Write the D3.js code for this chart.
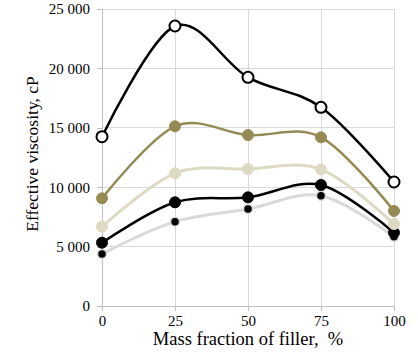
<!DOCTYPE html>
<html>
<head>
<meta charset="utf-8">
<script src="https://cdn.jsdelivr.net/npm/d3@7"></script>
<style>
  body { margin: 0; background: #fff; }
  svg { display: block; font-family: "Liberation Serif", "Times New Roman", serif; }
</style>
</head>
<body>
<svg></svg>
<script>
const width = 418;
const height = 352;

// data
const fractions = [0, 25, 50, 75, 100];
const yTicks = [0, 5000, 10000, 15000, 20000, 25000];
const seriesA = [14250, 23570, 19250, 16725, 10440];
const seriesB = [9065, 15125, 14390, 14200, 8000];
const seriesC = [6675, 11170, 11530, 11500, 6900];
const seriesD = [5330, 8730, 9150, 10185, 6170];
const seriesE = [4380, 7100, 8165, 9285, 5835];

const styles = [
  {vals: seriesE, line: "#d9d9d9", lw: 3, fill: "#000", stroke: "#d9d9d9", r: 4.5, sw: 1.5},
  {vals: seriesD, line: "#000", lw: 2.5, fill: "#000", stroke: "#000", r: 5.5, sw: 1},
  {vals: seriesC, line: "#ddd9c3", lw: 3, fill: "#ddd9c3", stroke: "#ddd9c3", r: 5.5, sw: 1},
  {vals: seriesB, line: "#948a54", lw: 2.5, fill: "#948a54", stroke: "#948a54", r: 5.5, sw: 1},
  {vals: seriesA, line: "#000", lw: 2.5, fill: "#fff", stroke: "#000", r: 5.5, sw: 2}
];

const svg = d3.select("svg")
  .attr("width", width)
  .attr("height", height);

const x = d3.scaleLinear().domain([0, 100]).range([102, 394]);
const y = d3.scaleLinear().domain([0, 25000]).range([306, 9]);

const fmt = v => d3.format(",")(v).replace(/,/g, " ");

// grid
svg.append("g")
  .selectAll("line.h")
  .data(yTicks.slice(1))
  .join("line")
  .attr("x1", x(0)).attr("x2", x(100))
  .attr("y1", d => y(d)).attr("y2", d => y(d))
  .attr("stroke", "#d9d9d9").attr("stroke-width", 1)
  .attr("shape-rendering", "crispEdges");

svg.append("g")
  .selectAll("line.v")
  .data(fractions.slice(1))
  .join("line")
  .attr("x1", d => x(d)).attr("x2", d => x(d))
  .attr("y1", y(0)).attr("y2", y(25000))
  .attr("stroke", "#d9d9d9").attr("stroke-width", 1)
  .attr("shape-rendering", "crispEdges");

// axes
const xAxis = svg.append("g")
  .attr("transform", `translate(0,${y(0)})`)
  .call(d3.axisBottom(x).tickValues(fractions).tickSize(5).tickPadding(4));
const yAxis = svg.append("g")
  .attr("transform", `translate(${x(0)},0)`)
  .call(d3.axisLeft(y).tickValues(yTicks).tickFormat(fmt).tickSize(5).tickPadding(7));

[xAxis, yAxis].forEach(g => {
  g.select(".domain").attr("stroke", "#bfbfbf").attr("shape-rendering", "crispEdges");
  g.selectAll(".tick line").attr("stroke", "#bfbfbf").attr("shape-rendering", "crispEdges");
  g.selectAll("text")
    .attr("font-family", "Liberation Serif, Times New Roman, serif")
    .attr("font-size", 15)
    .attr("fill", "#000");
});
yAxis.select(".domain").attr("d", `M0.5,${y(0)}V${y(25000)}`);
xAxis.select(".domain").attr("d", `M${x(0)},0.5H${x(100)}`);

// series
const line = d3.line()
  .x((d, i) => x(fractions[i]))
  .y(d => y(d))
  .curve(d3.curveCardinal.tension(0));

styles.forEach(s => {
  svg.append("path")
    .attr("d", line(s.vals))
    .attr("fill", "none")
    .attr("stroke", s.line)
    .attr("stroke-width", s.lw)
    .attr("stroke-linejoin", "round");
});
styles.forEach(s => {
  svg.append("g")
    .selectAll("circle")
    .data(s.vals)
    .join("circle")
    .attr("cx", (d, i) => x(fractions[i]))
    .attr("cy", d => y(d))
    .attr("r", s.r)
    .attr("fill", s.fill)
    .attr("stroke", s.stroke)
    .attr("stroke-width", s.sw);
});

// axis titles
svg.append("text")
  .attr("x", 248).attr("y", 345)
  .attr("text-anchor", "middle")
  .attr("font-size", 18.5)
  .style("white-space", "pre")
  .text("Mass fraction of filler,  %");

svg.append("text")
  .attr("transform", "translate(38,154) rotate(-90)")
  .attr("text-anchor", "middle")
  .attr("font-size", 17.5)
  .text("Effective viscosity, cP");
</script>
</body>
</html>
